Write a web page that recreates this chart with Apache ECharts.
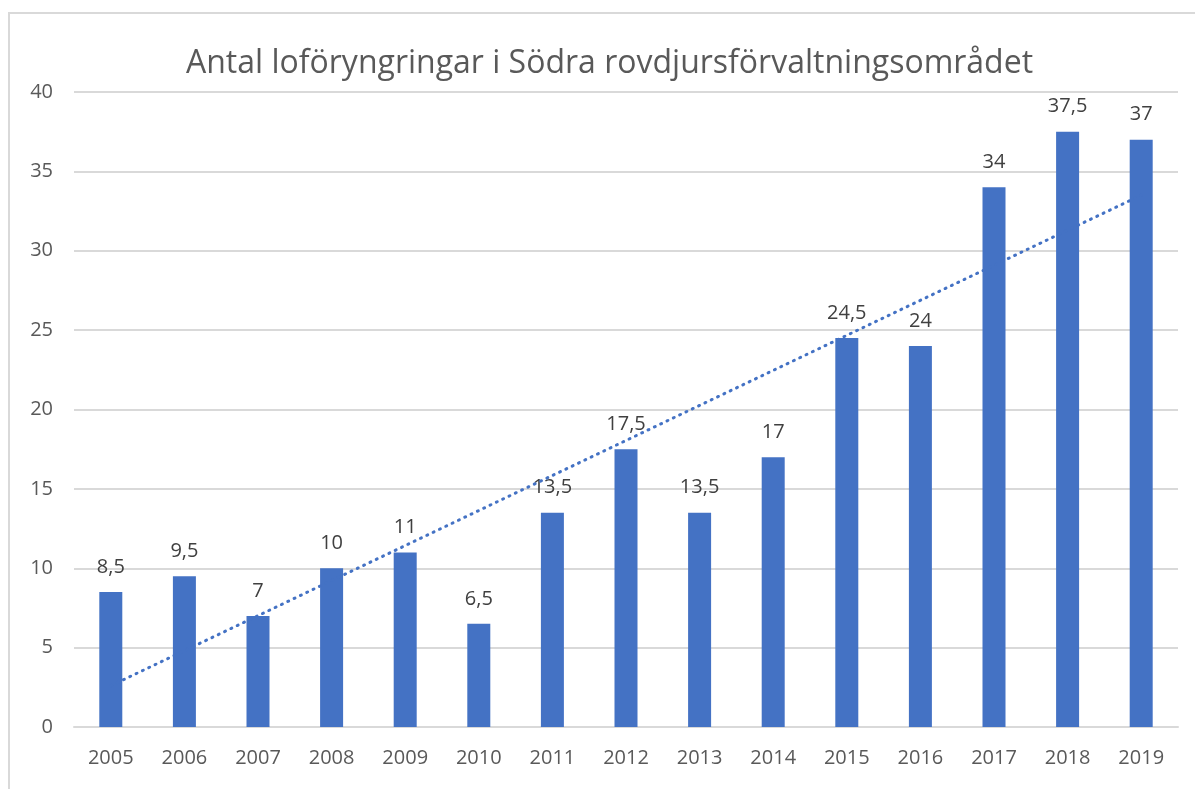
<!DOCTYPE html>
<html>
<head>
<meta charset="utf-8">
<script src="https://cdn.jsdelivr.net/npm/echarts@6/dist/echarts.min.js"></script>
<style>
  html, body { margin: 0; padding: 0; background: #fff; }
  #chart { width: 1195px; height: 789px; }
</style>
</head>
<body>
<div id="chart"></div>
<script>
// data
const years = ['2005', '2006', '2007', '2008', '2009', '2010', '2011', '2012',
  '2013', '2014', '2015', '2016', '2017', '2018', '2019'];
const lofor = [8.5, 9.5, 7, 10, 11, 6.5, 13.5, 17.5, 13.5, 17, 24.5, 24, 34, 37.5, 37];
// dotted trend line, ends (first and last year)
const trendStart = 2.6;
const trendEnd = 33.5;

const trend = years.map(() => null);
trend[0] = trendStart;
trend[trend.length - 1] = trendEnd;

const chart = echarts.init(document.getElementById('chart'));
const font = 'Open Sans';

const option = {
  animation: false,
  backgroundColor: '#fff',
  title: {
    text: 'Antal loföryngringar i Södra rovdjursförvaltningsområdet',
    left: 181,
    top: 43,
    textStyle: {
      fontFamily: font,
      fontSize: 32,
      fontWeight: 'normal',
      color: '#595959',
    },
  },
  graphic: [{
    type: 'rect',
    shape: { x: 9, y: 13, width: 1200, height: 800 },
    style: { fill: 'none', stroke: '#d9d9d9', lineWidth: 2 },
    silent: true,
  }],
  grid: {
    left: 74,
    right: 17,
    top: 92,
    bottom: 62,
  },
  xAxis: {
    type: 'category',
    data: years,
    axisLine: { lineStyle: { color: '#d9d9d9', width: 2 } },
    axisTick: { show: false },
    axisLabel: {
      fontFamily: font,
      fontSize: 20,
      color: '#595959',
      margin: 21,
    },
  },
  yAxis: {
    type: 'value',
    min: 0,
    max: 40,
    interval: 5,
    axisLine: { show: false },
    axisTick: { show: false },
    splitLine: { lineStyle: { color: '#d9d9d9', width: 2 } },
    axisLabel: {
      fontFamily: font,
      fontSize: 20,
      color: '#595959',
      margin: 21,
    },
  },
  series: [{
    type: 'bar',
    data: lofor,
    barWidth: 23,
    itemStyle: { color: '#4472c4' },
    label: {
      show: true,
      position: 'top',
      distance: 15,
      fontFamily: font,
      fontSize: 20,
      color: '#404040',
      formatter: (p) => String(p.value).replace('.', ','),
    },
  }, {
    type: 'line',
    data: trend,
    connectNulls: true,
    symbol: 'none',
    z: 3,
    lineStyle: {
      color: '#4472c4',
      width: 3,
      type: [1, 6],
      cap: 'round',
    },
  }],
};

chart.setOption(option);
</script>
</body>
</html>
